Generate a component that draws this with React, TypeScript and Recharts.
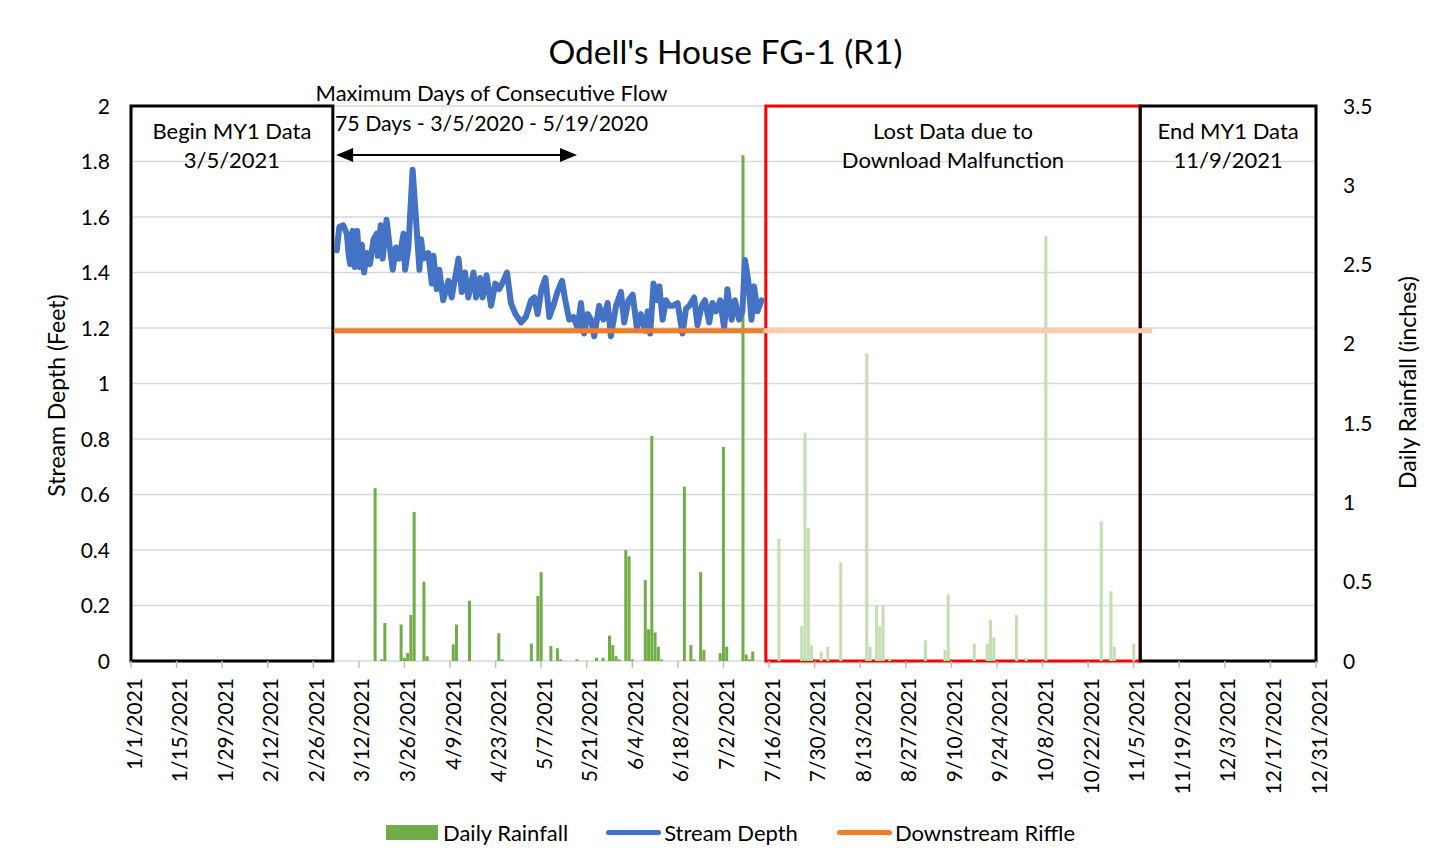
import React from "react";
import {
  ComposedChart,
  Bar,
  Line,
  XAxis,
  YAxis,
  CartesianGrid,
  ReferenceArea,
  ReferenceLine,
  Legend,
} from "recharts";

const FONT = "Lato, 'Open Sans', sans-serif";
const GREEN = "#70ad47";
const GREEN_FADED = "#c3deb1";
const BLUE = "#4472c4";
const ORANGE = "#ed7d31";
const ORANGE_FADED = "#f8cbad";

// ---- data ----
const xTickDays = [0, 14, 28, 42, 56, 70, 84, 98, 112, 126, 140, 154, 168, 182, 196, 210, 224, 238, 252, 266, 280, 294, 308, 322, 336, 350, 364];
const leftTicks = [0, 0.2, 0.4, 0.6, 0.8, 1, 1.2, 1.4, 1.6, 1.8, 2];
const rightTicks = [0, 0.5, 1, 1.5, 2, 2.5, 3, 3.5];

const rainDates = [
  "3/17/2021", "3/19/2021", "3/20/2021", "3/25/2021", "3/26/2021", "3/27/2021", "3/28/2021", "3/29/2021", "4/1/2021", "4/2/2021",
  "4/10/2021", "4/11/2021", "4/15/2021", "4/24/2021", "4/25/2021", "5/4/2021", "5/6/2021", "5/7/2021", "5/10/2021", "5/12/2021",
  "5/13/2021", "5/18/2021", "5/24/2021", "5/26/2021", "5/28/2021", "5/29/2021", "5/30/2021", "5/31/2021", "6/2/2021", "6/3/2021",
  "6/4/2021", "6/8/2021", "6/9/2021", "6/10/2021", "6/11/2021", "6/12/2021", "6/13/2021", "6/20/2021", "6/22/2021", "6/23/2021",
  "6/25/2021", "6/26/2021", "7/1/2021", "7/2/2021", "7/3/2021", "7/8/2021", "7/9/2021", "7/10/2021", "7/11/2021",
];
const rainValues = [
  1.09, 0.01, 0.24, 0.23, 0.02, 0.05, 0.29, 0.94, 0.5, 0.03,
  0.105, 0.23, 0.38, 0.175, 0.01, 0.11, 0.41, 0.56, 0.095, 0.08,
  0.01, 0.01, 0.02, 0.02, 0.16, 0.1, 0.03, 0.01, 0.7, 0.66,
  0.01, 0.51, 0.2, 1.42, 0.18, 0.09, 0.01, 1.1, 0.1, 0.01,
  0.56, 0.07, 0.05, 1.35, 0.09, 3.19, 0.04, 0.01, 0.06,
];

const lostRainDates = [
  "7/19/2021", "7/26/2021", "7/27/2021", "7/28/2021", "7/29/2021", "8/1/2021", "8/3/2021", "8/7/2021", "8/15/2021", "8/16/2021",
  "8/18/2021", "8/19/2021", "8/20/2021", "8/22/2021", "9/2/2021", "9/8/2021", "9/9/2021", "9/17/2021", "9/21/2021", "9/22/2021",
  "9/23/2021", "9/30/2021", "10/3/2021", "10/9/2021", "10/26/2021", "10/29/2021", "10/30/2021", "11/5/2021",
];
const lostRainValues = [
  0.77, 0.22, 1.44, 0.84, 0.1, 0.06, 0.09, 0.62, 1.94, 0.09,
  0.35, 0.22, 0.35, 0.01, 0.13, 0.07, 0.42, 0.11, 0.11, 0.26,
  0.15, 0.29, 0.02, 2.68, 0.88, 0.44, 0.09, 0.11,
];

// days since 1/1/2021 (fractional = time of day)
const depthDays = [
  63.2, 64.0, 65.2, 66.3, 66.8, 67.3, 68.1, 68.8, 69.5, 70.2,
  70.9, 71.6, 72.4, 73.4, 74.5, 75.5, 75.8, 76.7, 77.3, 78.5,
  79.4, 80.4, 81.4, 82.4, 83.7, 84.2, 85.2, 86.5, 87.7, 88.6,
  89.1, 89.8, 91.3, 92.4, 92.9, 93.9, 94.7, 95.9, 97.5, 98.5,
  100.6, 101.6, 102.6, 103.6, 105.2, 106.0, 107.2, 108.0, 109.2, 110.6,
  111.9, 113.1, 114.4, 115.5, 116.7, 118.1, 119.8, 121.3, 122.9, 123.9,
  124.9, 126.1, 127.3, 128.5, 130.0, 131.0, 132.4, 133.4, 134.6, 135.9,
  137.2, 138.2, 139.2, 140.3, 141.3, 142.3, 143.8, 145.1, 146.4, 147.4,
  149.0, 150.5, 151.5, 152.8, 154.1, 155.4, 156.6, 157.9, 158.7, 159.5,
  160.5, 161.6, 162.3, 163.3, 164.3, 165.3, 166.4, 167.9, 169.4, 170.5,
  171.5, 173.0, 174.0, 175.3, 176.3, 177.6, 178.6, 179.7, 181.0, 182.2,
  183.2, 184.5, 185.5, 186.8, 187.8, 188.6, 189.6, 190.6, 191.4, 192.4,
  193.7,
];
const depthValues = [
  1.48, 1.565, 1.57, 1.54, 1.47, 1.43, 1.55, 1.42, 1.55, 1.42,
  1.5, 1.4, 1.47, 1.43, 1.52, 1.54, 1.46, 1.57, 1.45, 1.59,
  1.5, 1.41, 1.49, 1.45, 1.54, 1.41, 1.49, 1.77, 1.565, 1.41,
  1.52, 1.45, 1.47, 1.36, 1.46, 1.34, 1.41, 1.3, 1.37, 1.31,
  1.45, 1.33, 1.4, 1.31, 1.4, 1.31, 1.38, 1.31, 1.39, 1.28,
  1.36, 1.34, 1.37, 1.4, 1.29, 1.25, 1.22, 1.24, 1.3, 1.31,
  1.25, 1.34, 1.38, 1.24, 1.29, 1.33, 1.37, 1.3, 1.23, 1.24,
  1.2, 1.29, 1.18, 1.25, 1.23, 1.17, 1.28, 1.23, 1.29, 1.17,
  1.28, 1.33, 1.22, 1.3, 1.32, 1.2, 1.25, 1.19, 1.26, 1.18,
  1.36, 1.3, 1.35, 1.23, 1.3, 1.28, 1.28, 1.29, 1.18, 1.27,
  1.28, 1.31, 1.21, 1.28, 1.3, 1.22, 1.29, 1.26, 1.3, 1.2,
  1.34, 1.23, 1.3, 1.23, 1.26, 1.445, 1.37, 1.23, 1.35, 1.26,
  1.3,
];

const riffleDates = ["3/5/2021", "7/15/2021"];
const lostRiffleDates = ["7/15/2021", "11/10/2021"];
const riffleValue = 1.19;

const beginBox = { from: "1/1/2021", to: "3/4/2021", lines: ["Begin MY1 Data", "3/5/2021"] };
const lostBox = { from: "7/15/2021", to: "11/7/2021", lines: ["Lost Data due to", "Download Malfunction"] };
const endBox = { from: "11/7/2021", to: "12/31/2021", lines: ["End MY1 Data", "11/9/2021"] };
const flowArrow = { from: "3/5/2021", to: "5/18/2021", depth: 1.823 };
const flowText = ["Maximum Days of Consecutive Flow", "75 Days - 3/5/2020 - 5/19/2020"];

// ---- helpers ----
const BASE = Date.UTC(2021, 0, 1);
function dayOf(s: string): number {
  const [m, d, y] = s.split("/").map(Number);
  return Math.round((Date.UTC(y, m - 1, d) - BASE) / 86400000);
}
function dateLabel(day: number): string {
  const dt = new Date(BASE + day * 86400000);
  return `${dt.getUTCMonth() + 1}/${dt.getUTCDate()}/${dt.getUTCFullYear()}`;
}

type Row = { x: number; rain?: number; lostRain?: number; depth?: number; riffle?: number; lostRiffle?: number };
function buildData(): Row[] {
  const map = new Map<number, Row>();
  const get = (x: number) => {
    if (!map.has(x)) map.set(x, { x });
    return map.get(x)!;
  };
  rainDates.forEach((d, i) => (get(dayOf(d)).rain = rainValues[i]));
  lostRainDates.forEach((d, i) => (get(dayOf(d)).lostRain = lostRainValues[i]));
  depthDays.forEach((d, i) => (get(d).depth = depthValues[i]));
  riffleDates.forEach((d) => (get(dayOf(d)).riffle = riffleValue));
  lostRiffleDates.forEach((d) => (get(dayOf(d)).lostRiffle = riffleValue));
  return Array.from(map.values()).sort((a, b) => a.x - b.x);
}
const data = buildData();

// ---- custom renderers ----
const thinBar = (color: string) => (props: any) => {
  const { x, y, width, height } = props;
  if (height == null || !(height > 0) || x == null) return <g />;
  const cx = x + width / 2;
  return <rect x={cx - 1.5} y={y} width={3} height={height} fill={color} />;
};

const XTick = (props: any) => {
  const { x, y, payload } = props;
  return (
    <text
      x={x}
      y={y}
      transform={`rotate(-90, ${x}, ${y})`}
      textAnchor="end"
      dy={10.5}
      fontFamily={FONT}
      fontSize={21}
      fill="#000"
    >
      {dateLabel(payload.value)}
    </text>
  );
};

const YTick = (anchor: "start" | "end") => (props: any) => {
  const { x, y, payload } = props;
  return (
    <text x={x} y={y} textAnchor={anchor} dy="0.36em" fontFamily={FONT} fontSize={21} fill="#000">
      {String(payload.value)}
    </text>
  );
};

const BoxLabel = (props: any) => {
  const { viewBox, lines } = props;
  if (!viewBox) return null;
  const cx = viewBox.x + viewBox.width / 2;
  return (
    <text fontFamily={FONT} fontSize={22} fill="#000" textAnchor="middle">
      {lines.map((l: string, i: number) => (
        <tspan key={i} x={cx} y={viewBox.y + 25 + i * 29} dy="0.36em">
          {l}
        </tspan>
      ))}
    </text>
  );
};

const ArrowShape = (props: any) => {
  const { x1, y1, x2, y2 } = props;
  if (x1 == null) return null;
  const head = 17;
  const half = 7;
  const mid = (x1 + x2) / 2 + 35;
  return (
    <g>
      <line x1={x1 + head - 1} y1={y1} x2={x2 - head + 1} y2={y2} stroke="#000" strokeWidth={2} />
      <polygon points={`${x1},${y1} ${x1 + head},${y1 - half} ${x1 + head},${y1 + half}`} fill="#000" />
      <polygon points={`${x2},${y2} ${x2 - head},${y2 - half} ${x2 - head},${y2 + half}`} fill="#000" />
      <text x={mid} y={y1 - 62} textAnchor="middle" dy="0.36em" fontFamily={FONT} fontSize={22} fill="#000">
        {flowText[0]}
      </text>
      <text x={mid} y={y1 - 32} textAnchor="middle" dy="0.36em" fontFamily={FONT} fontSize={21.3} fill="#000">
        {flowText[1]}
      </text>
    </g>
  );
};

const AxisTitle = (props: any) => {
  const { viewBox, value, shiftX, shiftY } = props;
  if (!viewBox) return null;
  const cx = viewBox.x + shiftX;
  const cy = viewBox.y + viewBox.height / 2 + shiftY;
  return (
    <text
      x={cx}
      y={cy}
      transform={`rotate(-90, ${cx}, ${cy})`}
      textAnchor="middle"
      dy="0.36em"
      fontFamily={FONT}
      fontSize={23}
      fill="#000"
    >
      {value}
    </text>
  );
};

const LegendContent = () => (
  <div
    style={{
      height: 40,
      display: "flex",
      justifyContent: "center",
      alignItems: "center",
      fontFamily: FONT,
      fontSize: 22,
      color: "#000",
      paddingLeft: 9,
      boxSizing: "border-box",
    }}
  >
    <span style={{ display: "inline-block", width: 52, height: 15, background: GREEN, marginRight: 5 }} />
    <span>Daily Rainfall</span>
    <span style={{ display: "inline-block", width: 55, height: 5, borderRadius: 3, background: BLUE, marginLeft: 38, marginRight: 3 }} />
    <span>Stream Depth</span>
    <span style={{ display: "inline-block", width: 55, height: 5, borderRadius: 3, background: ORANGE, marginLeft: 39, marginRight: 3 }} />
    <span>Downstream Riffle</span>
  </div>
);

export default function App() {
  const W = 1436;
  const H = 851;
  return (
    <div style={{ width: W, height: H, position: "relative", background: "#fff" }}>
      <ComposedChart
        width={W}
        height={H}
        data={data}
        margin={{ top: 98, right: 0, bottom: 7, left: 0 }}
      >
        <text x={717.5} y={44} textAnchor="middle" dy="0.36em" fontFamily={FONT} fontSize={33.5} fill="#000">
          Odell's House FG-1 (R1)
        </text>
        <CartesianGrid yAxisId="left" vertical={false} stroke="#d9d9d9" strokeWidth={1.5} />
        <XAxis
          dataKey="x"
          type="number"
          domain={[0, 364]}
          ticks={xTickDays}
          interval={0}
          allowDataOverflow
          height={151}
          tickSize={7}
          tickMargin={10}
          tick={<XTick />}
          axisLine={false}
          tickLine={{ stroke: "#bfbfbf", strokeWidth: 1.5 }}
        />
        <YAxis
          yAxisId="left"
          orientation="left"
          width={123}
          domain={[0, 2]}
          ticks={leftTicks}
          interval={0}
          allowDataOverflow
          axisLine={false}
          tickLine={false}
          tickSize={0}
          tickMargin={21}
          tick={YTick("end")}
          label={<AxisTitle value="Stream Depth (Feet)" shiftX={49} shiftY={12} />}
        />
        <YAxis
          yAxisId="right"
          orientation="right"
          width={128}
          domain={[0, 3.5]}
          ticks={rightTicks}
          interval={0}
          allowDataOverflow
          axisLine={false}
          tickLine={false}
          tickSize={0}
          tickMargin={27}
          tick={YTick("start")}
          label={<AxisTitle value="Daily Rainfall (inches)" shiftX={92} shiftY={-1} />}
        />
        <Line
          yAxisId="left"
          dataKey="depth"
          name="Stream Depth"
          stroke={BLUE}
          strokeWidth={6}
          strokeLinejoin="round"
          strokeLinecap="round"
          dot={false}
          activeDot={false}
          connectNulls
          isAnimationActive={false}
        />
        <Line
          yAxisId="left"
          dataKey="riffle"
          name="Downstream Riffle"
          stroke={ORANGE}
          strokeWidth={5}
          strokeLinecap="round"
          dot={false}
          activeDot={false}
          connectNulls
          isAnimationActive={false}
        />
        <Line
          yAxisId="left"
          dataKey="lostRiffle"
          name="Downstream Riffle (lost)"
          stroke={ORANGE_FADED}
          strokeWidth={5}
          strokeLinecap="round"
          dot={false}
          activeDot={false}
          connectNulls
          legendType="none"
          isAnimationActive={false}
        />
        <Bar
          yAxisId="right"
          dataKey="rain"
          name="Daily Rainfall"
          fill={GREEN}
          shape={thinBar(GREEN)}
          isAnimationActive={false}
        />
        <Bar
          yAxisId="right"
          dataKey="lostRain"
          name="Daily Rainfall (lost)"
          fill={GREEN_FADED}
          shape={thinBar(GREEN_FADED)}
          legendType="none"
          isAnimationActive={false}
        />
        <ReferenceArea
          yAxisId="left"
          x1={dayOf(beginBox.from)}
          x2={dayOf(beginBox.to)}
          y1={0}
          y2={2}
          fill="none"
          stroke="#000"
          strokeWidth={3}
          label={<BoxLabel lines={beginBox.lines} />}
        />
        <ReferenceArea
          yAxisId="left"
          x1={dayOf(lostBox.from)}
          x2={dayOf(lostBox.to)}
          y1={0}
          y2={2}
          fill="none"
          stroke="#ff0000"
          strokeWidth={3}
          label={<BoxLabel lines={lostBox.lines} />}
        />
        <ReferenceArea
          yAxisId="left"
          x1={dayOf(endBox.from)}
          x2={dayOf(endBox.to)}
          y1={0}
          y2={2}
          fill="none"
          stroke="#000"
          strokeWidth={3}
          label={<BoxLabel lines={endBox.lines} />}
        />
        <ReferenceLine
          yAxisId="left"
          ifOverflow="visible"
          segment={[
            { x: dayOf(flowArrow.from), y: flowArrow.depth },
            { x: dayOf(flowArrow.to), y: flowArrow.depth },
          ]}
          shape={ArrowShape}
        />
        <Legend verticalAlign="bottom" align="center" height={40} content={<LegendContent />} />
      </ComposedChart>
    </div>
  );
}
